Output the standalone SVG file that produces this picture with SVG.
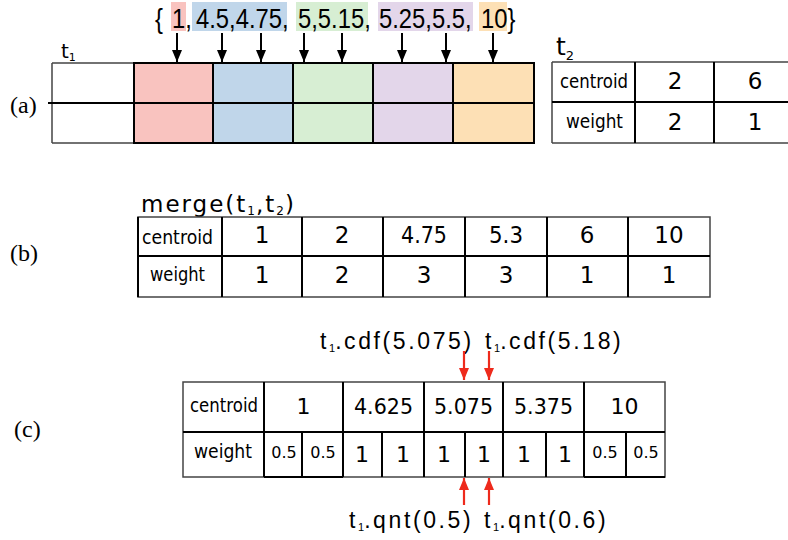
<svg xmlns="http://www.w3.org/2000/svg" width="788" height="540" viewBox="0 0 788 540">
  <style>
    .ser { font-family: "Liberation Serif", "Times New Roman", serif; font-size: 24px; fill: #000; }
    .hel { font-family: "Liberation Sans", Arial, sans-serif; fill: #000; }
    .dj { font-family: "DejaVu Sans", "Noto Sans", sans-serif; fill: #000; }
    .num { font-size: 23px; text-anchor: middle; }
    .numc { font-size: 22px; text-anchor: middle; }
    .half { font-size: 16px; text-anchor: middle; }
    .lab { font-size: 20px; }
    .ln { stroke: #000; stroke-width: 2; fill: none; }
    .edge { stroke: #444; stroke-width: 1.5; fill: none; }
    .arr { stroke: #000; stroke-width: 2; fill: none; }
    .rarr { stroke: #ee2a1c; stroke-width: 2.2; fill: none; }
    .fn { font-size: 23px; letter-spacing: 2.6px; }
    .sub { font-size: 11px; letter-spacing: 0; }
  </style>
  <defs>
    <marker id="headBlack" viewBox="0 0 12 10" refX="12" refY="5" markerWidth="12" markerHeight="10" markerUnits="userSpaceOnUse" orient="auto">
      <path d="M0,0 L12,5 L0,10 z" fill="#000"/>
    </marker>
    <marker id="headRed" viewBox="0 0 12 10" refX="12" refY="5" markerWidth="12" markerHeight="10" markerUnits="userSpaceOnUse" orient="auto">
      <path d="M0,0 L12,5 L0,10 z" fill="#ee2a1c"/>
    </marker>
  </defs>

  <!-- panel labels -->
  <g id="label-a"><text class="ser" x="10" y="113">(a)</text></g>
  <g id="label-b"><text class="ser" x="10" y="261">(b)</text></g>
  <g id="label-c"><text class="ser" x="14" y="437">(c)</text></g>

  <!-- sample values with colour groups -->
  <g id="values">
    <rect x="171" y="2" width="15" height="29" fill="#f9c3bf"/>
    <rect x="192" y="2" width="95" height="29" fill="#c0d6ea"/>
    <rect x="296" y="2" width="72" height="29" fill="#d7eed3"/>
    <rect x="378" y="2" width="95" height="29" fill="#e3d6ea"/>
    <rect x="479" y="2" width="28" height="29" fill="#fde0b5"/>
    <!-- horizontally condensed row of values -->
    <text class="hel" font-size="28" y="28" transform="scale(0.85,1)"><tspan x="182.4">{</tspan><tspan x="202.4">1,</tspan><tspan x="230.6">4.5,4.75,</tspan><tspan x="350.6">5,5.15,</tspan><tspan x="445.9">5.25,5.5,</tspan><tspan x="565.9">10}</tspan></text>
  </g>

  <!-- digest t1 -->
  <g id="t1">
    <text class="dj" x="61" y="58" font-size="20">t<tspan font-size="11" dy="3">1</tspan></text>
    <rect x="134" y="63" width="79" height="80" fill="#f9c3bf"/>
    <rect x="213" y="63" width="80" height="80" fill="#c0d6ea"/>
    <rect x="293" y="63" width="80" height="80" fill="#d7eed3"/>
    <rect x="373" y="63" width="80" height="80" fill="#e3d6ea"/>
    <rect x="453" y="63" width="81" height="80" fill="#fde0b5"/>
    <path class="edge" d="M52,63 H134 M52,143 H134 M52,63 V143"/>
    <path class="ln" d="M134,63 H534 V143 H134 Z M48,103 H534 M134,63 V143 M213,63 V143 M293,63 V143 M373,63 V143 M453,63 V143"/>
  </g>

  <!-- digest t2 -->
  <g id="t2">
    <text class="dj" x="556" y="55" font-size="25">t<tspan font-size="13" dy="5">2</tspan></text>
    <path class="edge" d="M552,62 H790 M552,143 H790 M552,62 V143"/>
    <path class="ln" d="M552,102 H790 M635,62 V143 M714,62 V143"/>
    <text class="dj lab" x="560" y="88" textLength="68" lengthAdjust="spacingAndGlyphs">centroid</text>
    <text class="dj lab" x="566" y="128" textLength="57" lengthAdjust="spacingAndGlyphs">weight</text>
    <text class="dj num" x="675" y="89">2</text>
    <text class="dj num" x="755" y="89">6</text>
    <text class="dj num" x="675" y="130">2</text>
    <text class="dj num" x="755" y="130">1</text>
  </g>

  <!-- merged digest -->
  <g id="merged">
    <text class="dj" x="141" y="212" font-size="23" letter-spacing="2">merge(t<tspan font-size="12" dy="3" letter-spacing="1">1</tspan><tspan dy="-3">,t</tspan><tspan font-size="12" dy="3" letter-spacing="1">2</tspan><tspan dy="-3">)</tspan></text>
    <path class="edge" d="M138,217 H710 V297 H138 Z"/>
    <path class="ln" d="M138,217 V297 M138,256 H710 M222,217 V297 M302,217 V297 M383,217 V297 M465,217 V297 M547,217 V297 M628,217 V297"/>
    <text class="dj lab" x="142" y="244" textLength="71" lengthAdjust="spacingAndGlyphs">centroid</text>
    <text class="dj lab" x="150" y="281" textLength="55" lengthAdjust="spacingAndGlyphs">weight</text>
    <g class="dj num">
      <text x="262" y="243">1</text>
      <text x="342" y="243">2</text>
      <text x="424" y="243" textLength="46" lengthAdjust="spacingAndGlyphs">4.75</text>
      <text x="506" y="243" textLength="34" lengthAdjust="spacingAndGlyphs">5.3</text>
      <text x="587" y="243">6</text>
      <text x="669" y="243">10</text>
      <text x="262" y="283">1</text>
      <text x="342" y="283">2</text>
      <text x="424" y="283">3</text>
      <text x="506" y="283">3</text>
      <text x="587" y="283">1</text>
      <text x="669" y="283">1</text>
    </g>
  </g>

  <!-- rescaled digest with split weights -->
  <g id="split">
    <path class="edge" d="M183,382 H665 V477 H183 Z"/>
    <path class="ln" d="M183,432 H665 M264,382 V477 M343,382 V477 M424,382 V477 M503,382 V477 M584,382 V477 M302,432 V477 M382,432 V477 M465,432 V477 M546,432 V477 M626,432 V477 M264,477 H343 M584,477 H665"/>
    <text class="dj lab" x="190" y="412" textLength="68" lengthAdjust="spacingAndGlyphs">centroid</text>
    <text class="dj lab" x="194" y="458" textLength="58" lengthAdjust="spacingAndGlyphs">weight</text>
    <g class="dj numc">
      <text x="303.5" y="414">1</text>
      <text x="383.5" y="414" textLength="59" lengthAdjust="spacingAndGlyphs">4.625</text>
      <text x="463.5" y="414" textLength="59" lengthAdjust="spacingAndGlyphs">5.075</text>
      <text x="543.5" y="414" textLength="59" lengthAdjust="spacingAndGlyphs">5.375</text>
      <text x="624.5" y="414">10</text>
      <text x="362" y="462">1</text>
      <text x="403" y="462">1</text>
      <text x="444" y="462">1</text>
      <text x="484" y="462">1</text>
      <text x="524" y="462">1</text>
      <text x="565" y="462">1</text>
    </g>
    <g class="dj half">
      <text x="284" y="458">0.5</text>
      <text x="323" y="458">0.5</text>
      <text x="605" y="458">0.5</text>
      <text x="646" y="458">0.5</text>
    </g>
  </g>

  <!-- query labels -->
  <g id="cdf-labels">
    <text class="hel fn" x="320" y="349">t<tspan class="sub" dy="3">1</tspan><tspan dy="-3">.cdf(5.075)</tspan></text>
    <text class="hel fn" x="485" y="349">t<tspan class="sub" dy="3">1</tspan><tspan dy="-3">.cdf(5.18)</tspan></text>
  </g>
  <g id="qnt-labels">
    <text class="hel fn" x="349" y="528">t<tspan class="sub" dy="3">1</tspan><tspan dy="-3">.qnt(0.5)</tspan></text>
    <text class="hel fn" x="484" y="528">t<tspan class="sub" dy="3">1</tspan><tspan dy="-3">.qnt(0.6)</tspan></text>
  </g>

  <!-- connectors -->
  <g id="connectors">
    <line class="arr" x1="177" y1="33" x2="177" y2="62" marker-end="url(#headBlack)"/>
    <line class="arr" x1="222" y1="33" x2="222" y2="62" marker-end="url(#headBlack)"/>
    <line class="arr" x1="261" y1="33" x2="261" y2="62" marker-end="url(#headBlack)"/>
    <line class="arr" x1="304" y1="33" x2="304" y2="62" marker-end="url(#headBlack)"/>
    <line class="arr" x1="342" y1="33" x2="342" y2="62" marker-end="url(#headBlack)"/>
    <line class="arr" x1="402" y1="33" x2="402" y2="62" marker-end="url(#headBlack)"/>
    <line class="arr" x1="446" y1="33" x2="446" y2="62" marker-end="url(#headBlack)"/>
    <line class="arr" x1="493" y1="33" x2="493" y2="62" marker-end="url(#headBlack)"/>
    <line class="rarr" x1="464" y1="351" x2="464" y2="380" marker-end="url(#headRed)"/>
    <line class="rarr" x1="489" y1="351" x2="489" y2="380" marker-end="url(#headRed)"/>
    <line class="rarr" x1="464" y1="505" x2="464" y2="478" marker-end="url(#headRed)"/>
    <line class="rarr" x1="489" y1="505" x2="489" y2="478" marker-end="url(#headRed)"/>
  </g>
</svg>
